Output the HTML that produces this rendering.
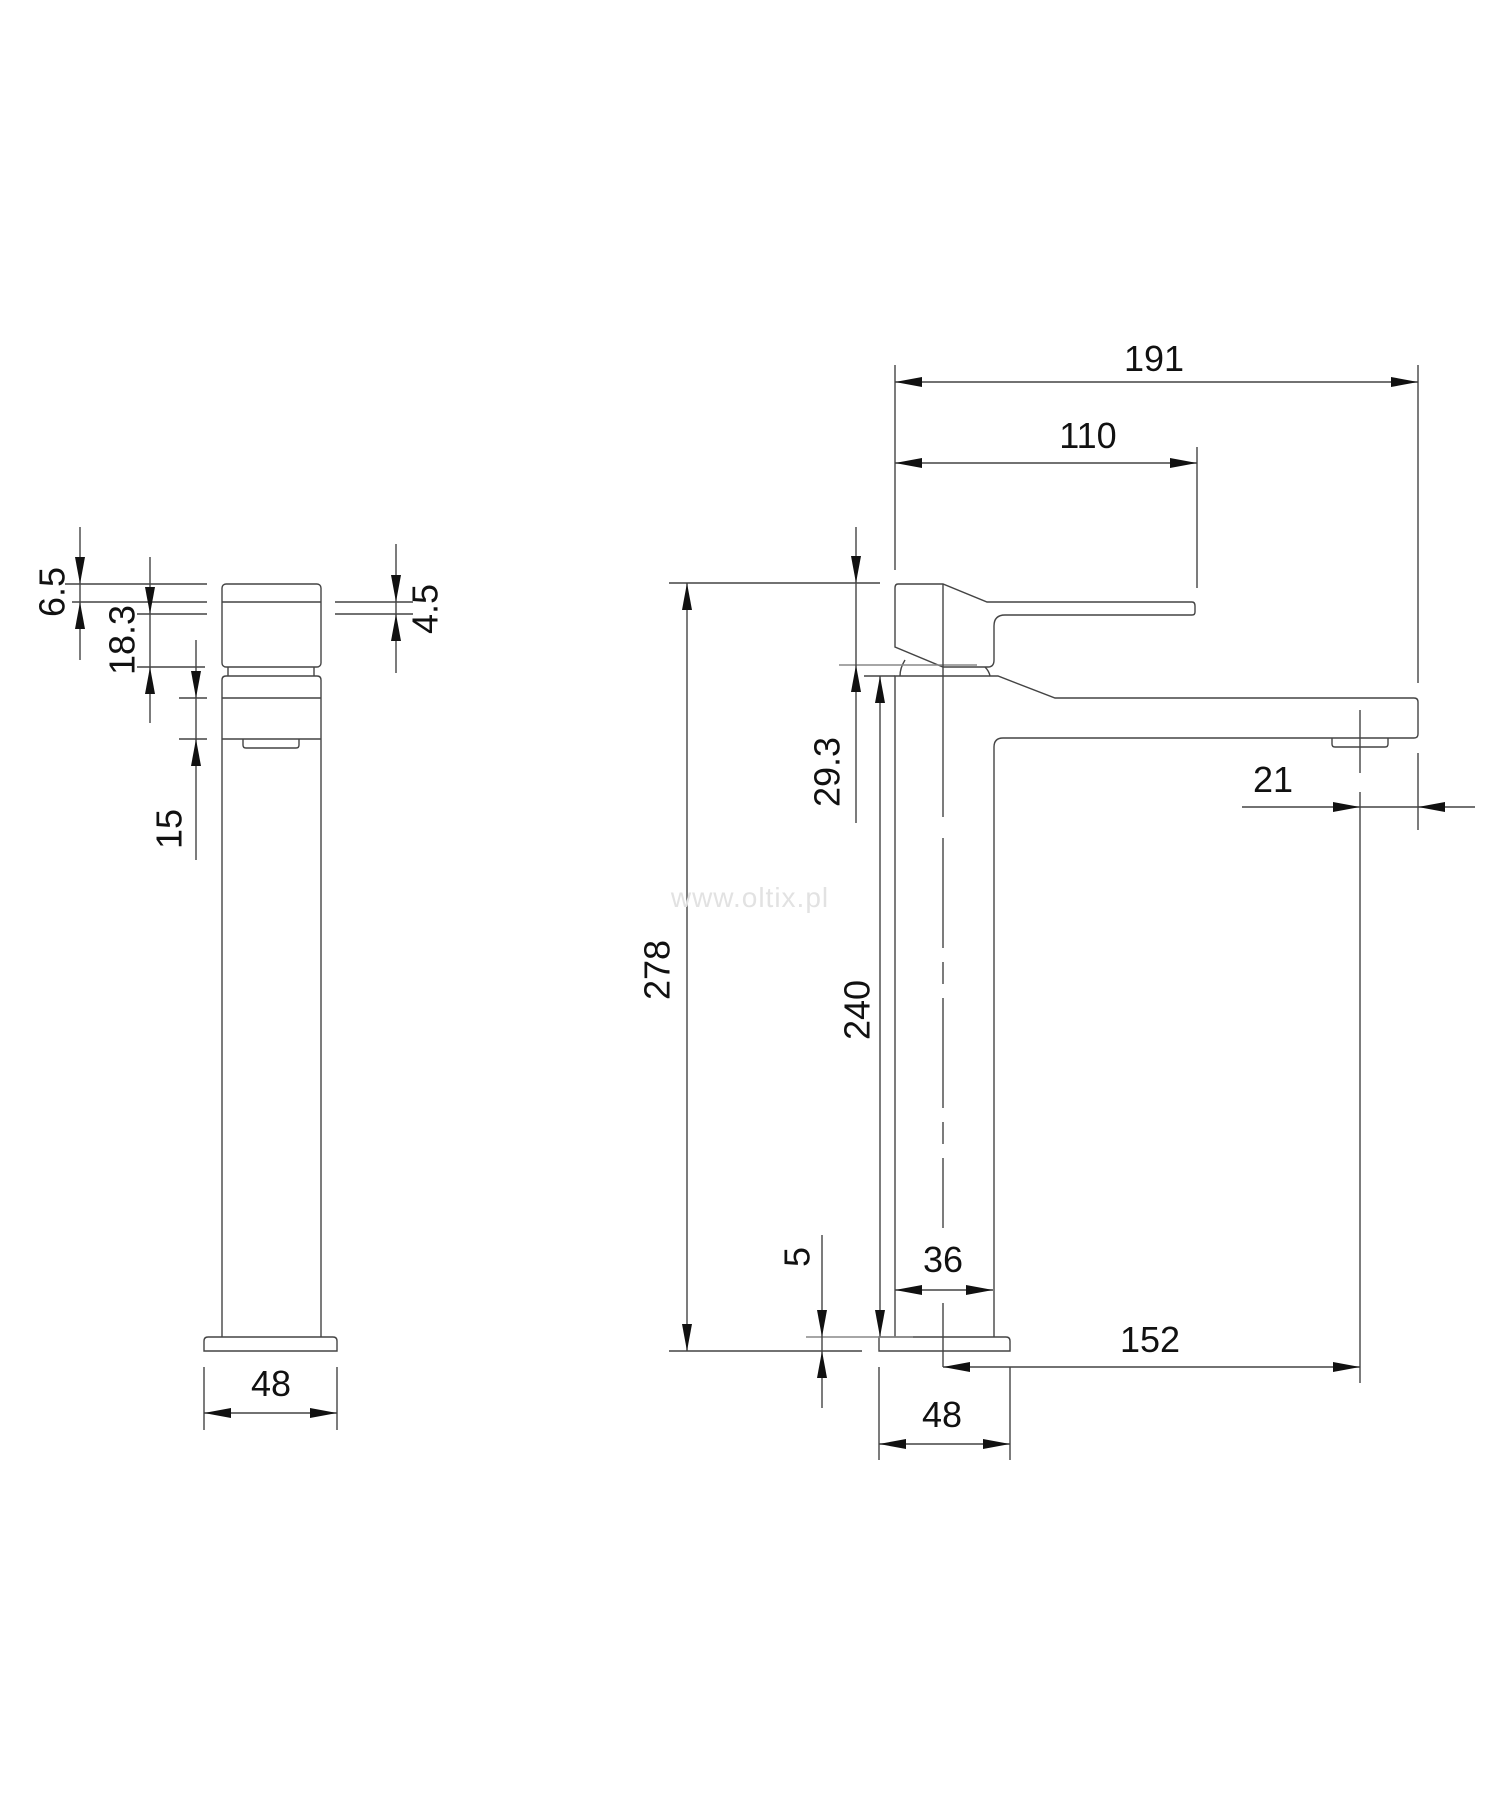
<!DOCTYPE html>
<html><head><meta charset="utf-8"><style>
html,body{margin:0;padding:0;background:#fff;}
svg{display:block;}
text{font-family:"Liberation Sans",Arial,sans-serif;font-size:36px;fill:#111;}
</style></head><body>
<svg width="1500" height="1796" viewBox="0 0 1500 1796" xmlns="http://www.w3.org/2000/svg">
<g stroke="#444" stroke-width="1.4" fill="none">
<!-- LEFT VIEW -->
<rect x="222" y="584" width="99" height="83" rx="4"/>
<line x1="222" y1="602" x2="321" y2="602"/>
<path d="M228,667 L228,676 M314,667 L314,676"/>
<path d="M222,1337 L222,680 Q222,676 226,676 L317,676 Q321,676 321,680 L321,1337"/>
<line x1="222" y1="698" x2="321" y2="698"/>
<line x1="222" y1="739" x2="321" y2="739"/>
<path d="M243,739 L243,745 Q243,748 246,748 L296,748 Q299,748 299,745 L299,739"/>
<path d="M204,1351 L204,1341 Q204,1337 208,1337 L333,1337 Q337,1337 337,1341 L337,1351 Z"/>
<!-- left dims -->
<line x1="80" y1="527" x2="80" y2="660"/>
<line x1="65" y1="584" x2="207" y2="584"/>
<line x1="72" y1="602" x2="207" y2="602"/>
<line x1="150" y1="557" x2="150" y2="723"/>
<line x1="137" y1="614" x2="207" y2="614"/>
<line x1="137" y1="667" x2="205" y2="667"/>
<line x1="196" y1="640" x2="196" y2="860"/>
<line x1="179" y1="698" x2="207" y2="698"/>
<line x1="179" y1="739" x2="207" y2="739"/>
<line x1="396" y1="544" x2="396" y2="673"/>
<line x1="335" y1="602" x2="413" y2="602"/>
<line x1="335" y1="614" x2="413" y2="614"/>
<line x1="204" y1="1367" x2="204" y2="1430"/>
<line x1="337" y1="1367" x2="337" y2="1430"/>
<line x1="204" y1="1413" x2="337" y2="1413"/>

<!-- RIGHT VIEW -->
<path d="M898,584 L943,584 L987,602 L1192,602 Q1195,602 1195,606 L1195,612 Q1195,615 1192,615 L1005,615 Q994,615 994,626 L994,660 Q994,667 988,667 L943,667 L895,647 L895,588 Q895,584 898,584 Z"/>
<path d="M905,660 Q900,668 900,676 M985,667 Q989,671 990,676"/>
<line x1="839" y1="665" x2="977" y2="665" stroke="#888"/>
<path d="M895,1337 L895,676 L998,676 L1055,698 L1414,698 Q1418,698 1418,702 L1418,734 Q1418,738 1414,738 L1003,738 Q994,738 994,747 L994,1337"/>
<path d="M1332,738 L1332,744 Q1332,747 1335,747 L1385,747 Q1388,747 1388,744 L1388,738"/>
<path d="M879,1351 L879,1337 L1006,1337 Q1010,1337 1010,1341 L1010,1351 Z"/>
<line x1="943" y1="584" x2="943" y2="817"/>
<line x1="943" y1="838" x2="943" y2="1228" stroke-dasharray="110 14 22 14"/>
<line x1="943" y1="1303" x2="943" y2="1367"/>
<line x1="1360" y1="710" x2="1360" y2="773"/>
<line x1="1360" y1="792" x2="1360" y2="1383"/>
<!-- right dims -->
<line x1="895" y1="382" x2="1418" y2="382"/>
<line x1="895" y1="365" x2="895" y2="570"/>
<line x1="1418" y1="365" x2="1418" y2="683"/>
<line x1="895" y1="463" x2="1197" y2="463"/>
<line x1="1197" y1="447" x2="1197" y2="588"/>
<line x1="1242" y1="807" x2="1475" y2="807"/>
<line x1="1418" y1="753" x2="1418" y2="830"/>
<line x1="687" y1="583" x2="687" y2="1351"/>
<line x1="669" y1="583" x2="880" y2="583"/>
<line x1="669" y1="1351" x2="862" y2="1351"/>
<line x1="856" y1="527" x2="856" y2="823"/>
<line x1="880" y1="676" x2="880" y2="1337"/>
<line x1="864" y1="676" x2="895" y2="676"/>
<line x1="806" y1="1337" x2="913" y2="1337" stroke="#888"/>
<line x1="822" y1="1235" x2="822" y2="1408"/>
<line x1="895" y1="1290" x2="993" y2="1290"/>
<line x1="943" y1="1367" x2="1360" y2="1367"/>
<line x1="879" y1="1367" x2="879" y2="1460"/>
<line x1="1010" y1="1367" x2="1010" y2="1460"/>
<line x1="879" y1="1444" x2="1010" y2="1444"/>
</g>
<g fill="#111" stroke="none">
<!-- left arrows -->
<polygon points="75,557 85,557 80,584"/>
<polygon points="75,629 85,629 80,602"/>
<polygon points="145,587 155,587 150,614"/>
<polygon points="145,694 155,694 150,667"/>
<polygon points="191,671 201,671 196,698"/>
<polygon points="191,766 201,766 196,739"/>
<polygon points="391,575 401,575 396,602"/>
<polygon points="391,641 401,641 396,614"/>
<polygon points="231,1408 231,1418 204,1413"/>
<polygon points="310,1408 310,1418 337,1413"/>
<!-- right arrows -->
<polygon points="922,377 922,387 895,382"/>
<polygon points="1391,377 1391,387 1418,382"/>
<polygon points="922,458 922,468 895,463"/>
<polygon points="1170,458 1170,468 1197,463"/>
<polygon points="1333,802 1333,812 1360,807"/>
<polygon points="1445,802 1445,812 1418,807"/>
<polygon points="682,610 692,610 687,583"/>
<polygon points="682,1324 692,1324 687,1351"/>
<polygon points="851,556 861,556 856,583"/>
<polygon points="851,692 861,692 856,665"/>
<polygon points="875,703 885,703 880,676"/>
<polygon points="875,1310 885,1310 880,1337"/>
<polygon points="817,1310 827,1310 822,1337"/>
<polygon points="817,1378 827,1378 822,1351"/>
<polygon points="922,1285 922,1295 895,1290"/>
<polygon points="966,1285 966,1295 993,1290"/>
<polygon points="970,1362 970,1372 943,1367"/>
<polygon points="1333,1362 1333,1372 1360,1367"/>
<polygon points="906,1439 906,1449 879,1444"/>
<polygon points="983,1439 983,1449 1010,1444"/>
</g>
<text x="750" y="907" text-anchor="middle" style="font-size:28px;fill:#e2e2e2;letter-spacing:1px">www.oltix.pl</text>
<text x="271" y="1396" text-anchor="middle">48</text>
<text x="1154" y="371" text-anchor="middle">191</text>
<text x="1088" y="448" text-anchor="middle">110</text>
<text x="1273" y="792" text-anchor="middle">21</text>
<text x="943" y="1272" text-anchor="middle">36</text>
<text x="1150" y="1352" text-anchor="middle">152</text>
<text x="942" y="1427" text-anchor="middle">48</text>
<g text-anchor="middle" dominant-baseline="central">
<text transform="translate(52,592) rotate(-90)">6.5</text>
<text transform="translate(122,640) rotate(-90)">18.3</text>
<text transform="translate(169,829) rotate(-90)">15</text>
<text transform="translate(425,609) rotate(-90)">4.5</text>
<text transform="translate(657,970) rotate(-90)">278</text>
<text transform="translate(827,772) rotate(-90)">29.3</text>
<text transform="translate(857,1010) rotate(-90)">240</text>
<text transform="translate(797,1257) rotate(-90)">5</text>
</g>
</svg>
</body></html>
